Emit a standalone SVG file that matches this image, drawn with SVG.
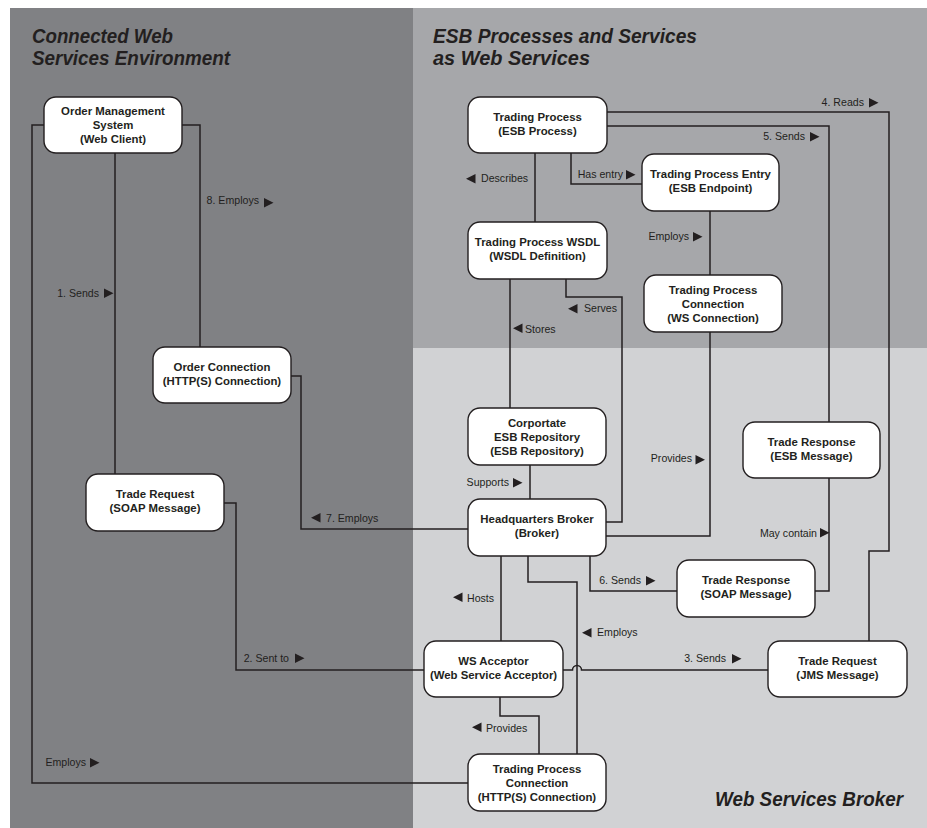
<svg xmlns="http://www.w3.org/2000/svg" width="927" height="828" viewBox="0 0 927 828">
  <style>
    .node rect { fill: #ffffff; stroke: #231f20; stroke-width: 1.4; }
    .node text { font-family: "Liberation Sans", Arial, sans-serif; font-size: 11.4px; font-weight: bold; fill: #231f20; text-anchor: middle; }
    .title { font-family: "Liberation Sans", Arial, sans-serif; font-size: 19.5px; font-weight: bold; font-style: italic; fill: #231f20; }
    #connectors path { fill: none; stroke: #231f20; stroke-width: 1.5; }
    .lbl { font-family: "Liberation Sans", Arial, sans-serif; font-size: 10.6px; fill: #231f20; }
    .lbl.r { text-anchor: end; }
    .tri { fill: #231f20; }
  </style>
  <defs>
    <polygon id="tr" points="0,0 9.5,4.75 0,9.5" class="tri"/>
    <polygon id="tl" points="9.5,0 0,4.75 9.5,9.5" class="tri"/>
  </defs>

  <!-- panels -->
  <rect x="0" y="0" width="927" height="828" fill="#ffffff"/>
  <rect x="10" y="8" width="403" height="820" fill="#808184"/>
  <rect x="413" y="8" width="514" height="340" fill="#a6a7aa"/>
  <rect x="413" y="348" width="514" height="480" fill="#d1d2d4"/>

  <!-- titles -->
  <text class="title" x="32" y="43" textLength="141" lengthAdjust="spacingAndGlyphs">Connected Web</text>
  <text class="title" x="32" y="65" textLength="198" lengthAdjust="spacingAndGlyphs">Services Environment</text>
  <text class="title" x="433" y="43" textLength="264" lengthAdjust="spacingAndGlyphs">ESB Processes and Services</text>
  <text class="title" x="433" y="65" textLength="157" lengthAdjust="spacingAndGlyphs">as Web Services</text>
  <text class="title" x="715" y="806" textLength="188" lengthAdjust="spacingAndGlyphs">Web Services Broker</text>

  <!-- connectors -->
  <g id="connectors">
    <path d="M44,125 H32 V783 H468"/>
    <path d="M115,153 V474"/>
    <path d="M182,125 H200 V347"/>
    <path d="M291,376 H301 V529 H468"/>
    <path d="M224,503 H236 V670 H424"/>
    <path d="M607,112 H889 V551 H869 V641"/>
    <path d="M607,126 H829 V422"/>
    <path d="M535,153 V222"/>
    <path d="M571,153 V184 H642"/>
    <path d="M710,211 V275"/>
    <path d="M510,279 V408"/>
    <path d="M566,279 V297 H622 V522 H606"/>
    <path d="M530,465 V499"/>
    <path d="M710,332 V536 H606"/>
    <path d="M829,478 V591 H815"/>
    <path d="M590,556 V591 H677"/>
    <path d="M501,556 V641"/>
    <path d="M528,556 V582 H577 V754"/>
    <path d="M563,670 H572.5 A4.5,4.5 0 0 1 581.5,670 H768"/>
    <path d="M500,697 V716 H539 V754"/>

    <!-- connector labels -->
    <text class="lbl r" x="259" y="204">8. Employs</text>
    <use href="#tr" x="264" y="198"/>
    <text class="lbl r" x="99" y="297">1. Sends</text>
    <use href="#tr" x="104" y="288.5"/>
    <use href="#tl" x="311" y="513"/>
    <text class="lbl" x="326" y="522">7. Employs</text>
    <text class="lbl r" x="289" y="662">2. Sent to</text>
    <use href="#tr" x="295" y="653.5"/>
    <text class="lbl r" x="86" y="766">Employs</text>
    <use href="#tr" x="90" y="758"/>
    <text class="lbl r" x="864" y="106">4. Reads</text>
    <use href="#tr" x="869" y="98"/>
    <text class="lbl r" x="805" y="140">5. Sends</text>
    <use href="#tr" x="810" y="132"/>
    <use href="#tl" x="466" y="174"/>
    <text class="lbl" x="481" y="182">Describes</text>
    <text class="lbl r" x="623" y="178">Has entry</text>
    <use href="#tr" x="626" y="170"/>
    <text class="lbl r" x="689" y="240">Employs</text>
    <use href="#tr" x="693" y="232"/>
    <use href="#tl" x="568" y="304"/>
    <text class="lbl" x="584" y="312">Serves</text>
    <use href="#tl" x="513" y="323.5"/>
    <text class="lbl" x="525" y="333">Stores</text>
    <text class="lbl r" x="692" y="462">Provides</text>
    <use href="#tr" x="695.5" y="455"/>
    <text class="lbl r" x="509" y="486">Supports</text>
    <use href="#tr" x="513" y="478"/>
    <text class="lbl r" x="817" y="537">May contain</text>
    <use href="#tr" x="820" y="528"/>
    <text class="lbl r" x="641" y="584">6. Sends</text>
    <use href="#tr" x="646" y="576"/>
    <use href="#tl" x="453" y="592.5"/>
    <text class="lbl" x="467" y="602">Hosts</text>
    <use href="#tl" x="582" y="628"/>
    <text class="lbl" x="597" y="636">Employs</text>
    <text class="lbl r" x="726" y="662">3. Sends</text>
    <use href="#tr" x="732" y="654"/>
    <use href="#tl" x="472" y="722.5"/>
    <text class="lbl" x="486" y="732">Provides</text>
  </g>

  <!-- nodes -->
  <g id="order-management-system" class="node">
    <rect x="44" y="97" width="138" height="56" rx="12"/>
    <text x="113" y="115">Order Management</text>
    <text x="113" y="129">System</text>
    <text x="113" y="143">(Web Client)</text>
  </g>
  <g id="order-connection" class="node">
    <rect x="153" y="347" width="138" height="56" rx="12"/>
    <text x="222" y="371">Order Connection</text>
    <text x="222" y="385">(HTTP(S) Connection)</text>
  </g>
  <g id="trade-request-soap" class="node">
    <rect x="86" y="474" width="138" height="57" rx="12"/>
    <text x="155" y="498">Trade Request</text>
    <text x="155" y="512">(SOAP Message)</text>
  </g>
  <g id="trading-process" class="node">
    <rect x="468" y="97" width="139" height="56" rx="12"/>
    <text x="537.5" y="121">Trading Process</text>
    <text x="537.5" y="135">(ESB Process)</text>
  </g>
  <g id="trading-process-entry" class="node">
    <rect x="642" y="154" width="137" height="57" rx="12"/>
    <text x="710.5" y="178">Trading Process Entry</text>
    <text x="710.5" y="192">(ESB Endpoint)</text>
  </g>
  <g id="trading-process-wsdl" class="node">
    <rect x="468" y="222" width="139" height="57" rx="12"/>
    <text x="537.5" y="246">Trading Process WSDL</text>
    <text x="537.5" y="260">(WSDL Definition)</text>
  </g>
  <g id="trading-process-ws-connection" class="node">
    <rect x="644" y="275" width="138" height="57" rx="12"/>
    <text x="713" y="294">Trading Process</text>
    <text x="713" y="308">Connection</text>
    <text x="713" y="322">(WS Connection)</text>
  </g>
  <g id="corporate-esb-repository" class="node">
    <rect x="468" y="408" width="138" height="57" rx="12"/>
    <text x="537" y="427">Corportate</text>
    <text x="537" y="441">ESB Repository</text>
    <text x="537" y="455">(ESB Repository)</text>
  </g>
  <g id="headquarters-broker" class="node">
    <rect x="468" y="499" width="138" height="57" rx="12"/>
    <text x="537" y="523">Headquarters Broker</text>
    <text x="537" y="537">(Broker)</text>
  </g>
  <g id="trade-response-esb" class="node">
    <rect x="743" y="422" width="137" height="56" rx="12"/>
    <text x="811.5" y="446">Trade Response</text>
    <text x="811.5" y="460">(ESB Message)</text>
  </g>
  <g id="trade-response-soap" class="node">
    <rect x="677" y="560" width="138" height="57" rx="12"/>
    <text x="746" y="584">Trade Response</text>
    <text x="746" y="598">(SOAP Message)</text>
  </g>
  <g id="ws-acceptor" class="node">
    <rect x="424" y="641" width="139" height="56" rx="12"/>
    <text x="493.5" y="665">WS Acceptor</text>
    <text x="493.5" y="679">(Web Service Acceptor)</text>
  </g>
  <g id="trade-request-jms" class="node">
    <rect x="768" y="641" width="139" height="56" rx="12"/>
    <text x="837.5" y="665">Trade Request</text>
    <text x="837.5" y="679">(JMS Message)</text>
  </g>
  <g id="trading-process-http-connection" class="node">
    <rect x="468" y="754" width="138" height="57" rx="12"/>
    <text x="537" y="773">Trading Process</text>
    <text x="537" y="787">Connection</text>
    <text x="537" y="801">(HTTP(S) Connection)</text>
  </g>
</svg>
